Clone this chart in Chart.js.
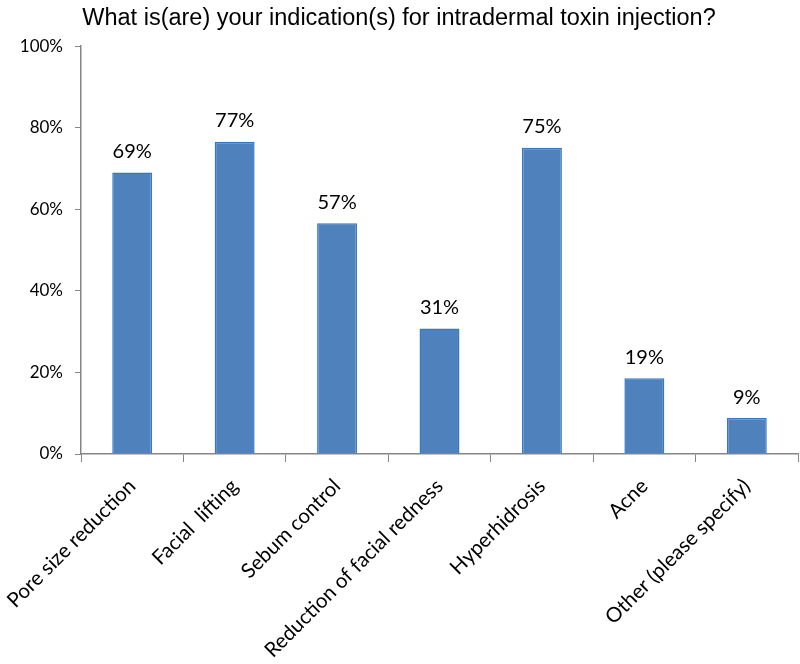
<!DOCTYPE html>
<html>
<head>
<meta charset="utf-8">
<script src="https://cdn.jsdelivr.net/npm/chart.js@4.4.1/dist/chart.umd.min.js"></script>
<style>
  html, body { margin: 0; padding: 0; background: #ffffff; }
  #wrap { width: 800px; height: 664px; position: relative; }
</style>
</head>
<body>
<div id="wrap"><canvas id="c" width="800" height="664"></canvas></div>
<script>
const chartTitle = 'What is(are) your indication(s) for intradermal toxin injection?';
const categories = ['Pore size reduction', 'Facial  lifting', 'Sebum control', 'Reduction of facial redness', 'Hyperhidrosis', 'Acne', 'Other (please specify)'];
const values = [69.0, 76.6, 56.6, 30.8, 75.1, 18.6, 8.8];
const yTickValues = [0, 20, 40, 60, 80, 100];

const labelFont = "Lato, 'Open Sans', sans-serif";

const valueLabels = {
  id: 'valueLabels',
  afterDatasetsDraw(chart) {
    const ctx = chart.ctx;
    const meta = chart.getDatasetMeta(0);
    ctx.save();
    ctx.font = '20px ' + labelFont;
    ctx.fillStyle = '#000000';
    ctx.textAlign = 'center';
    ctx.textBaseline = 'bottom';
    meta.data.forEach((bar, i) => {
      ctx.fillText(Math.round(values[i]) + '%', bar.x, bar.y - 11);
    });
    ctx.restore();
  }
};

new Chart(document.getElementById('c'), {
  type: 'bar',
  data: {
    labels: categories,
    datasets: [{
      data: values,
      backgroundColor: '#4F81BD',
      borderColor: '#3478C6',
      borderWidth: 1.5,
      barPercentage: 0.39,
      categoryPercentage: 1.0
    }]
  },
  options: {
    responsive: false,
    animation: false,
    devicePixelRatio: 1,
    layout: { padding: { left: 0, right: 2, top: 0, bottom: 0 } },
    plugins: {
      legend: { display: false },
      tooltip: { enabled: false },
      title: {
        display: true,
        text: chartTitle,
        color: '#000000',
        font: { family: "'Liberation Sans Narrow', 'Liberation Sans', Arial, sans-serif", size: 23.5, weight: 'normal' },
        padding: { top: 4, bottom: 14 }
      }
    },
    scales: {
      x: {
        border: { display: true, color: '#868686', width: 1.5 },
        grid: { display: true, drawOnChartArea: false, drawTicks: true, tickLength: 8, color: '#868686', offset: true },
        ticks: {
          color: '#000000',
          font: { family: labelFont, size: 20.5 },
          minRotation: 45,
          maxRotation: 45,
          autoSkip: false,
          padding: 12
        },
        afterFit(scale) {
          scale.height = 210;
          scale.paddingLeft = 0;
          scale.paddingRight = 0;
        }
      },
      y: {
        min: 0,
        max: 100,
        border: { display: true, color: '#868686', width: 1.5 },
        grid: { display: true, drawOnChartArea: false, drawTicks: true, tickLength: 6, color: '#868686' },
        afterBuildTicks(scale) { scale.ticks = yTickValues.map(v => ({ value: v })); },
        ticks: {
          color: '#000000',
          font: { family: labelFont, size: 17 },
          padding: 12,
          callback: (v) => v + '%'
        },
        afterFit(scale) { scale.width = 81; }
      }
    }
  },
  plugins: [valueLabels]
});
</script>
</body>
</html>
